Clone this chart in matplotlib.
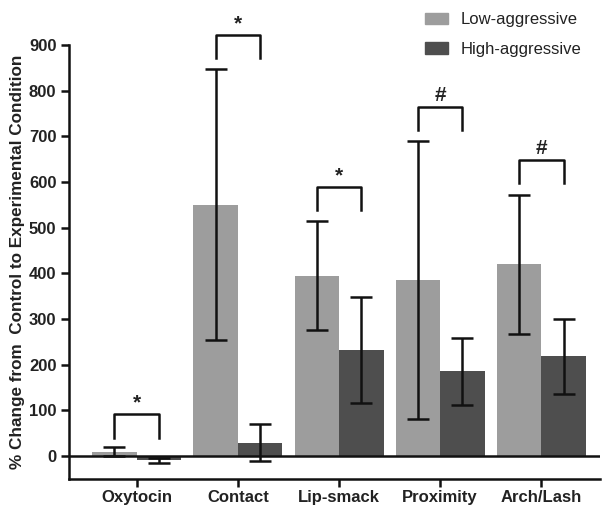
import matplotlib.pyplot as plt
import numpy as np
from matplotlib.patches import Patch

plt.rcParams['font.family'] = ['Liberation Sans', 'DejaVu Sans']

categories = ['Oxytocin', 'Contact', 'Lip-smack', 'Proximity', 'Arch/Lash']
low_mean = [9, 550, 395, 385, 420]
low_err = [10, 297, 120, 304, 152]
high_mean = [-10, 29, 232, 185, 218]
high_err = [5, 40, 117, 74, 82]
sig_marks = ['*', '*', '*', '#', '#']
bracket_top = [91, 922, 589, 765, 648]
yticks = [0, 100, 200, 300, 400, 500, 600, 700, 800, 900]

low_col = '#9d9d9d'
high_col = '#4e4e4e'
txt_col = '#222222'

fig = plt.figure(figsize=(6.03, 5.08), dpi=100)
ax = fig.add_axes([0.1144, 0.0577, 0.8806, 0.8537])

x = np.arange(len(categories))
w = 0.44
ax.bar(x - w/2, low_mean, w, color=low_col, label='Low-aggressive', zorder=2)
ax.bar(x + w/2, high_mean, w, color=high_col, label='High-aggressive', zorder=2)
ax.errorbar(x - w/2, low_mean, yerr=low_err, fmt='none', ecolor='#111111',
            elinewidth=1.8, capsize=8, capthick=1.8, zorder=3)
ax.errorbar(x + w/2, high_mean, yerr=high_err, fmt='none', ecolor='#111111',
            elinewidth=1.8, capsize=8, capthick=1.8, zorder=3)

ax.axhline(0, color='#111111', lw=1.8, zorder=4)

# significance brackets
for i in range(len(categories)):
    top = bracket_top[i]
    x0, x1 = x[i] - w/2, x[i] + w/2
    ax.plot([x0, x0, x1, x1], [top - 51, top, top, top - 51],
            color='#111111', lw=1.8, clip_on=False, zorder=5)
    ax.text(x[i], top + 4, sig_marks[i], ha='center', va='bottom',
            fontsize=15, fontweight='bold', color=txt_col, clip_on=False)

ax.set_xlim(-0.67, 4.58)
ax.set_ylim(-50, 900)
ax.set_xticks(x)
ax.set_xticklabels(categories, fontsize=12, fontweight='bold', color=txt_col)
ax.set_yticks(yticks)
ax.set_yticklabels([str(v) for v in yticks], fontsize=12, fontweight='bold', color=txt_col)
ax.tick_params(axis='both', width=1.8, length=6, color='#111111', pad=3)
ax.tick_params(axis='x', pad=2)

for s in ['top', 'right']:
    ax.spines[s].set_visible(False)
for s in ['left', 'bottom']:
    ax.spines[s].set_linewidth(1.8)
    ax.spines[s].set_color('#111111')

ax.set_ylabel('% Change from  Control to Experimental Condition',
              fontsize=12.3, fontweight='bold', color=txt_col, labelpad=3)

handles = [Patch(color=low_col), Patch(color=high_col)]
fig.legend(handles, ['Low-aggressive', 'High-aggressive'], loc='upper left',
           bbox_to_anchor=(0.68, 1.005), frameon=False, fontsize=12,
           handlelength=1.4, handleheight=0.7, handletextpad=0.75,
           labelspacing=0.85, labelcolor=txt_col)

fig.savefig('out.png', dpi=100)
